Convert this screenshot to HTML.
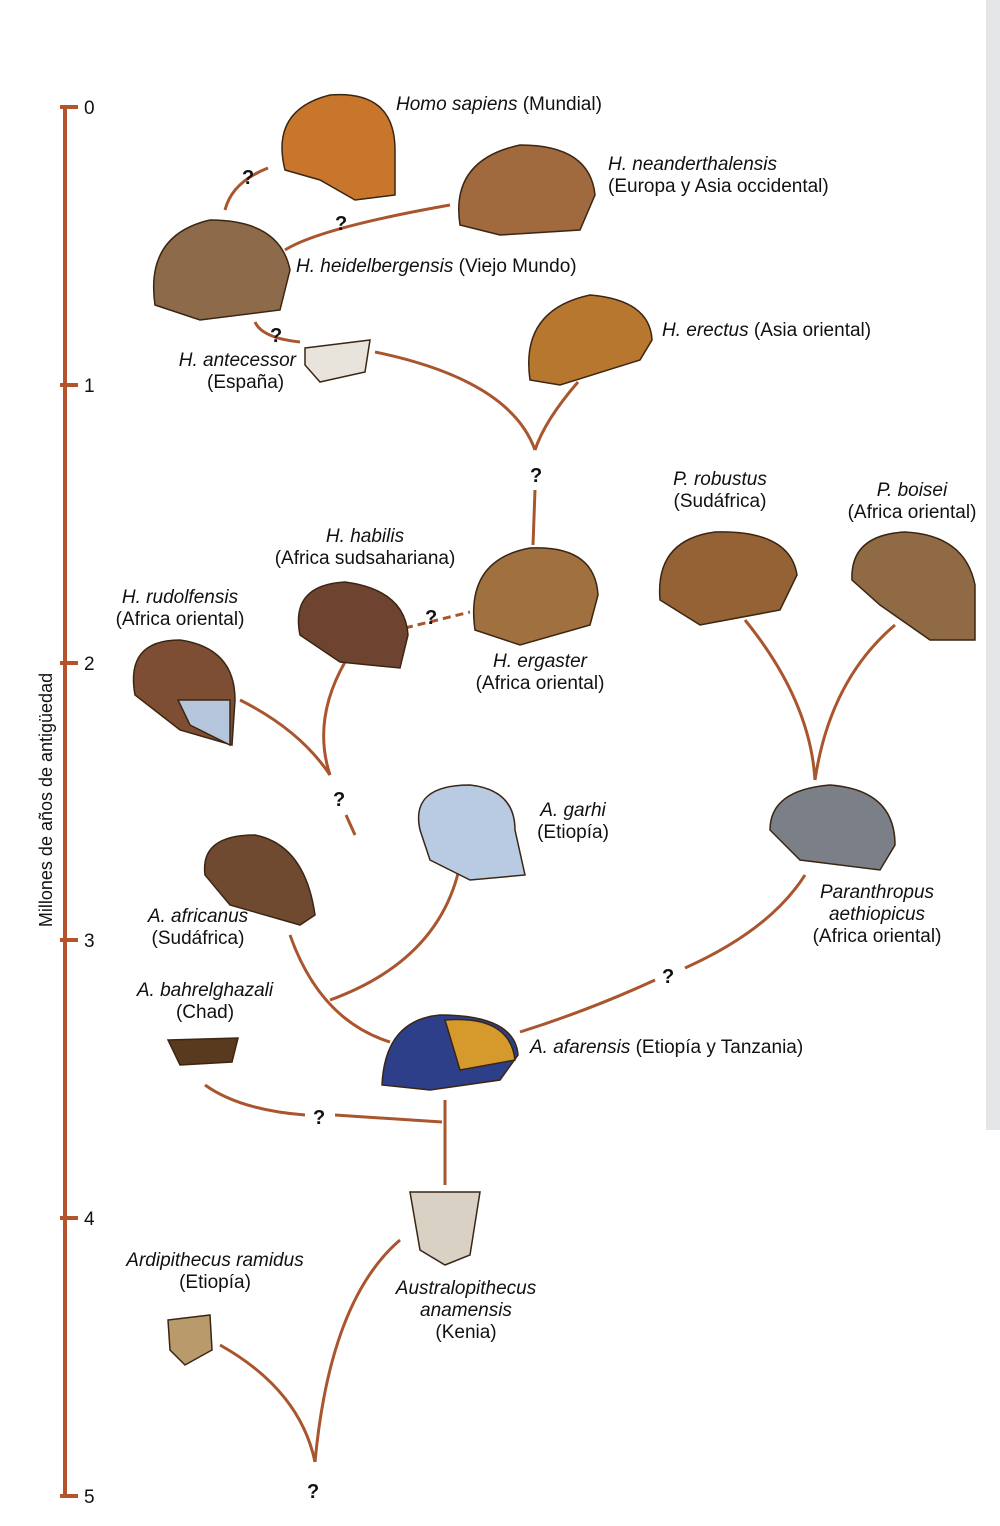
<!DOCTYPE html>
<html><head><meta charset="utf-8"><style>
html,body{margin:0;padding:0;background:#fff;}
svg{display:block;}
text{font-family:"Liberation Sans",sans-serif;font-size:19px;fill:#111;}
.i{font-style:italic;}
.q{font-weight:bold;font-size:20px;}
</style></head><body>
<svg width="1000" height="1526" viewBox="0 0 1000 1526" xmlns="http://www.w3.org/2000/svg">
<rect x="0" y="0" width="1000" height="1526" fill="#fff"/>
<rect x="986" y="0" width="14" height="1130" fill="#e4e6e8"/>
<g stroke="#b4542a" stroke-width="4">
<line x1="65" y1="105" x2="65" y2="1498"/>
<line x1="60" y1="107" x2="78" y2="107"/><line x1="60" y1="385" x2="78" y2="385"/>
<line x1="60" y1="663" x2="78" y2="663"/><line x1="60" y1="940" x2="78" y2="940"/>
<line x1="60" y1="1218" x2="78" y2="1218"/><line x1="60" y1="1496" x2="78" y2="1496"/>
</g>
<text x="84" y="114" font-size="20">0</text><text x="84" y="392">1</text><text x="84" y="670">2</text>
<text x="84" y="947">3</text><text x="84" y="1225">4</text><text x="84" y="1503">5</text>
<text transform="translate(52,800) rotate(-90)" text-anchor="middle" style="font-size:18px">Millones de años de antigüedad</text>
<g fill="none" stroke="#a9552d" stroke-width="3">
<path d="M225 210 Q232 182 268 168"/>
<path d="M285 250 Q320 228 450 205"/>
<path d="M255 322 Q262 338 300 342"/>
<path d="M375 352 Q510 380 535 450"/>
<path d="M578 382 Q545 420 535 450"/>
<path d="M535 490 L533 545"/>
<path d="M405 628 L470 612" stroke-dasharray="8 5"/>
<path d="M345 662 Q312 720 330 775"/>
<path d="M240 700 Q300 730 330 775"/>
<path d="M346 815 L355 835"/>
<path d="M460 865 Q440 960 330 1000"/>
<path d="M290 935 Q320 1020 390 1042"/>
<path d="M520 1032 Q590 1010 655 980"/>
<path d="M685 968 Q770 930 805 875"/>
<path d="M745 620 Q810 700 815 780"/>
<path d="M895 625 Q830 680 815 780"/>
<path d="M205 1085 Q240 1110 305 1115"/>
<path d="M335 1115 L442 1122"/>
<path d="M445 1100 L445 1185"/>
<path d="M400 1240 Q330 1300 315 1462"/>
<path d="M220 1345 Q300 1390 315 1462"/>
</g>
<g>
<text x="242" y="184" class="q">?</text><text x="335" y="230" class="q">?</text>
<text x="270" y="342" class="q">?</text><text x="530" y="482" class="q">?</text>
<text x="425" y="624" class="q">?</text><text x="333" y="806" class="q">?</text>
<text x="662" y="983" class="q">?</text><text x="313" y="1124" class="q">?</text>
<text x="307" y="1498" class="q">?</text>
</g>
<g stroke="#3a2612" stroke-width="1.5">
<path d="M285 170 Q270 110 330 95 Q395 90 395 150 L395 195 L355 200 L320 180 Z" fill="#c8762c"/>
<path d="M460 225 Q450 160 520 145 Q590 145 595 195 L580 230 L500 235 Z" fill="#a06a3e"/>
<path d="M155 305 Q145 235 210 220 Q280 220 290 270 L280 310 L200 320 Z" fill="#8d6a4a"/>
<path d="M305 348 L370 340 L365 372 L320 382 L305 365 Z" fill="#e8e4dc"/>
<path d="M530 380 Q520 310 590 295 Q650 300 652 340 L640 360 L560 385 Z" fill="#b8772e"/>
<path d="M475 630 Q465 560 530 548 Q595 545 598 595 L590 625 L520 645 Z" fill="#a0713f"/>
<path d="M300 635 Q290 585 345 582 Q405 590 408 635 L400 668 L340 662 Z" fill="#6e4431"/>
<path d="M135 695 Q125 640 180 640 Q235 648 235 700 L232 745 L180 730 Z" fill="#7d4e34"/>
<path d="M178 700 L230 700 L230 745 L190 725 Z" fill="#b5c6dc"/>
<path d="M420 830 Q410 785 470 785 Q515 790 515 830 L525 875 L470 880 L430 860 Z" fill="#b9cbe2"/>
<path d="M205 875 Q200 835 255 835 Q305 845 315 915 L300 925 L230 905 Z" fill="#6f4a30"/>
<path d="M168 1040 L238 1038 L232 1062 L180 1065 Z" fill="#5a3a1e"/>
<path d="M382 1085 Q385 1020 440 1015 Q515 1015 518 1055 L500 1080 L430 1090 Z" fill="#2e3f8a"/>
<path d="M445 1020 Q510 1015 515 1060 L460 1070 Z" fill="#d69a2c"/>
<path d="M770 830 Q770 790 830 785 Q895 790 895 845 L880 870 L800 860 Z" fill="#7a7f88"/>
<path d="M660 600 Q655 540 715 532 Q790 530 797 575 L780 610 L700 625 Z" fill="#946234"/>
<path d="M852 580 Q850 535 905 532 Q965 535 975 585 L975 640 L930 640 L880 605 Z" fill="#8f6a45"/>
<path d="M410 1192 L480 1192 L470 1255 L445 1265 L420 1250 Z" fill="#d9d2c4"/>
<path d="M168 1320 L210 1315 L212 1350 L185 1365 L170 1350 Z" fill="#b99a6a"/>
</g>
<text x="396" y="110"><tspan class="i">Homo sapiens</tspan> (Mundial)</text>
<text x="608" y="170" class="i">H. neanderthalensis</text>
<text x="608" y="192">(Europa y Asia occidental)</text>
<text x="296" y="272"><tspan class="i">H. heidelbergensis</tspan> (Viejo Mundo)</text>
<text x="296" y="366" text-anchor="end" class="i">H. antecessor</text>
<text x="207" y="388">(España)</text>
<text x="662" y="336"><tspan class="i">H. erectus</tspan> (Asia oriental)</text>
<text x="720" y="485" text-anchor="middle" class="i">P. robustus</text>
<text x="720" y="507" text-anchor="middle">(Sudáfrica)</text>
<text x="912" y="496" text-anchor="middle" class="i">P. boisei</text>
<text x="912" y="518" text-anchor="middle">(Africa oriental)</text>
<text x="365" y="542" text-anchor="middle" class="i">H. habilis</text>
<text x="365" y="564" text-anchor="middle">(Africa sudsahariana)</text>
<text x="180" y="603" text-anchor="middle" class="i">H. rudolfensis</text>
<text x="180" y="625" text-anchor="middle">(Africa oriental)</text>
<text x="540" y="667" text-anchor="middle" class="i">H. ergaster</text>
<text x="540" y="689" text-anchor="middle">(Africa oriental)</text>
<text x="573" y="816" text-anchor="middle" class="i">A. garhi</text>
<text x="573" y="838" text-anchor="middle">(Etiopía)</text>
<text x="198" y="922" text-anchor="middle" class="i">A. africanus</text>
<text x="198" y="944" text-anchor="middle">(Sudáfrica)</text>
<text x="877" y="898" text-anchor="middle" class="i">Paranthropus</text>
<text x="877" y="920" text-anchor="middle" class="i">aethiopicus</text>
<text x="877" y="942" text-anchor="middle">(Africa oriental)</text>
<text x="205" y="996" text-anchor="middle" class="i">A. bahrelghazali</text>
<text x="205" y="1018" text-anchor="middle">(Chad)</text>
<text x="530" y="1053"><tspan class="i">A. afarensis</tspan> (Etiopía y Tanzania)</text>
<text x="215" y="1266" text-anchor="middle" class="i">Ardipithecus ramidus</text>
<text x="215" y="1288" text-anchor="middle">(Etiopía)</text>
<text x="466" y="1294" text-anchor="middle" class="i">Australopithecus</text>
<text x="466" y="1316" text-anchor="middle" class="i">anamensis</text>
<text x="466" y="1338" text-anchor="middle">(Kenia)</text>
</svg>
</body></html>
